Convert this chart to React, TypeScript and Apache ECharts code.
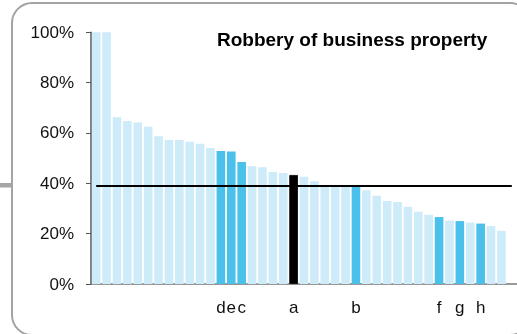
import React, { useEffect, useRef } from "react";
import * as echarts from "echarts";

const categories = [
  "", "", "", "", "", "", "", "", "", "", "", "", "d", "e", "c", "", "", "", "", "a",
  "", "", "", "", "", "b", "", "", "", "", "", "", "", "f", "", "g", "", "h", "", "", "",
];
const values = [
  100, 100, 66.2, 64.8, 64.2, 62.5, 58.7, 57.2, 57.2, 56.5, 55.7, 54.0, 52.8, 52.6, 48.5, 46.8,
  46.4, 44.5, 44.1, 43.3, 42.6, 40.8, 39.3, 39.1, 39.0, 38.5, 37.2, 35.1, 33.0, 32.6, 30.7, 28.7,
  27.5, 26.6, 25.2, 25.0, 24.4, 24.0, 23.0, 21.1, null,
];
const highlighted = [12, 13, 14, 25, 33, 35, 37];
const focus = [19];
const average = 38.9;
const yTicks = [0, 20, 40, 60, 80, 100];
const title = "Robbery of business property";

const LIGHT = "#cdebf8";
const DARK = "#4bc0ea";

export default function App() {
  const ref = useRef<HTMLDivElement>(null);
  useEffect(() => {
    if (!ref.current) return;
    const chart = echarts.init(ref.current, undefined, { renderer: "svg" });
    const font = "'Liberation Sans', Arial, sans-serif";
    chart.setOption({
      animation: false,
      graphic: [
        {
          type: "rect",
          shape: { x: 12, y: 3, width: 518, height: 332, r: 20 },
          style: { fill: "none", stroke: "#a3a3a3", lineWidth: 2 },
          z: 0,
        },
        {
          type: "rect",
          shape: { x: 0, y: 183, width: 12, height: 4.5 },
          style: { fill: "#a6a6a6" },
        },
        {
          type: "text",
          x: 217,
          y: 30,
          style: {
            text: title,
            font: `bold 19px ${font}`,
            fill: "#000",
            verticalAlign: "top",
          },
        },
      ],
      grid: { left: 91, top: 32.3, width: 427.6, height: 251.7, containLabel: false },
      xAxis: {
        type: "category",
        data: categories,
        axisLine: { lineStyle: { color: "#777", width: 1.5 } },
        axisTick: { show: false },
        axisLabel: { interval: 0, color: "#111", fontSize: 17, fontFamily: font, margin: 15 },
      },
      yAxis: {
        type: "value",
        min: 0,
        max: 100,
        interval: 20,
        splitLine: { show: false },
        axisLine: { show: true, lineStyle: { color: "#555", width: 1.5 } },
        axisTick: { show: true, length: 5, lineStyle: { color: "#555" } },
        axisLabel: {
          color: "#111",
          fontSize: 17,
          fontFamily: font,
          margin: 17,
          formatter: (v: number) => (yTicks.includes(v) ? `${v}%` : ""),
        },
      },
      series: [
        {
          type: "bar",
          barCategoryGap: "17%",
          data: values.map((v, i) => ({
            value: v,
            itemStyle: focus.includes(i)
              ? { color: "#000", borderColor: "#000", borderWidth: 0.8 }
              : { color: highlighted.includes(i) ? DARK : LIGHT },
          })),
          markLine: {
            silent: true,
            symbol: "none",
            label: { show: false },
            lineStyle: { color: "#000", width: 2, type: "solid" },
            data: [
              [
                { coord: [0, average] },
                { coord: [categories.length - 1, average] },
              ],
            ],
            z: 10,
          },
        },
      ],
    });
    return () => chart.dispose();
  }, []);
  return (
    <div
      ref={ref}
      style={{ position: "fixed", left: 0, top: 0, width: 517, height: 334 }}
    />
  );
}
